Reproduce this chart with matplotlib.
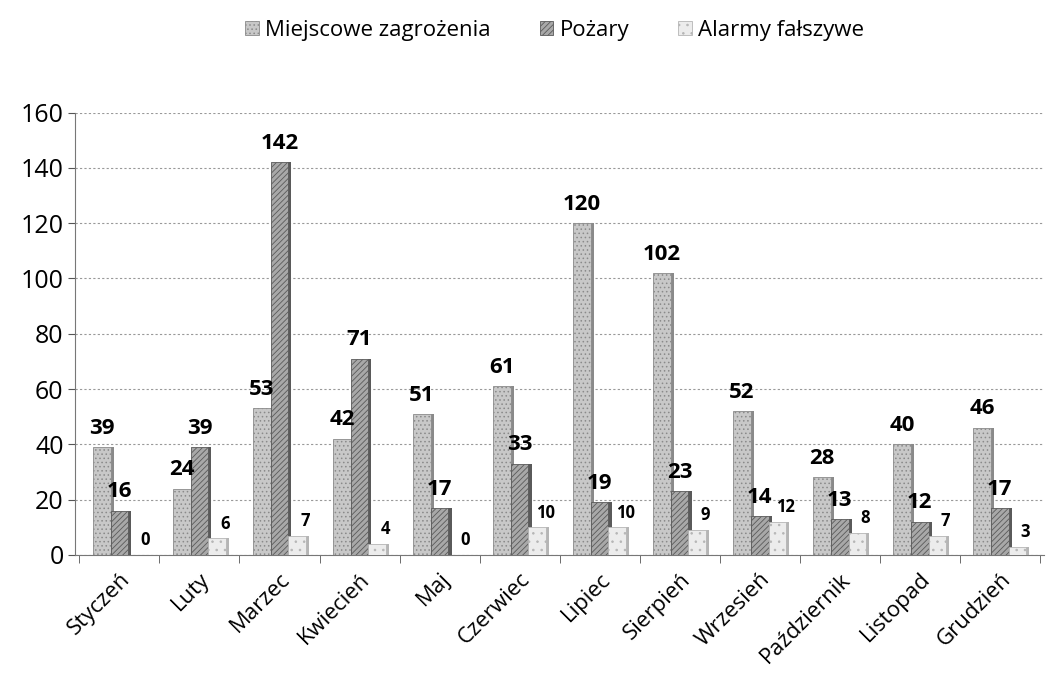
import matplotlib
matplotlib.use('Agg')
import matplotlib.pyplot as plt
import numpy as np

plt.rcParams['font.family'] = ['Open Sans', 'DejaVu Sans']
plt.rcParams['hatch.linewidth'] = 0.6

months = ['Styczeń', 'Luty', 'Marzec', 'Kwiecień', 'Maj', 'Czerwiec',
          'Lipiec', 'Sierpień', 'Wrzesień', 'Październik', 'Listopad', 'Grudzień']
miejscowe = [39, 24, 53, 42, 51, 61, 120, 102, 52, 28, 40, 46]
pozary = [16, 39, 142, 71, 17, 33, 19, 23, 14, 13, 12, 17]
alarmy = [0, 6, 7, 4, 0, 10, 10, 9, 12, 8, 7, 3]

series = [
    ('Miejscowe zagrożenia', miejscowe, '#c8c8c8', '....', '#8a8a8a'),
    ('Pożary', pozary, '#a8a8a8', '//////', '#5a5a5a'),
    ('Alarmy fałszywe', alarmy, '#ececec', '..', '#b5b5b5'),
]

fig = plt.figure(figsize=(10.47, 6.91), dpi=100)
ax = fig.add_axes([0.072, 0.197, 0.925, 0.64])

x = np.arange(len(months))
w = 0.22
for i, (name, vals, fc, hatch, ec) in enumerate(series):
    pos = x + (i - 1) * w
    ax.bar(pos, vals, width=w, color=fc, hatch=hatch, edgecolor=ec,
           linewidth=0.6, label=name, zorder=3)
    # darker side face for a bit of depth
    ax.bar(pos + w * 0.5, vals, width=w * 0.18, color=ec, linewidth=0,
           zorder=2.9, align='edge')
    for xb, v in zip(pos, vals):
        if i < 2:
            ax.text(xb, v + 3, str(v), ha='center', va='bottom',
                    fontsize=16, fontweight='bold', zorder=5)
        else:
            ax.text(xb + w * 0.45, v + 2, str(v), ha='center', va='bottom',
                    fontsize=12, fontweight='bold', zorder=5)

ax.set_ylim(0, 160)
ax.set_yticks(range(0, 161, 20))
ax.set_xlim(-0.55, 11.55)
ax.set_xticks(x)
ax.set_xticklabels(months, rotation=45, ha='right', rotation_mode='anchor',
                   fontsize=16)
ax.tick_params(axis='x', length=0, pad=10)
ax.tick_params(axis='y', labelsize=18, length=5, color='#555555')
ax.set_xticks(np.arange(-0.5, 12, 1), minor=True)
ax.tick_params(axis='x', which='minor', length=6, color='#555555')
ax.yaxis.grid(True, linestyle=(0, (2, 2)), color='#999999', linewidth=0.8,
              zorder=0)
for s in ['top', 'right']:
    ax.spines[s].set_visible(False)
ax.spines['left'].set_color('#777777')
ax.spines['bottom'].set_color('#777777')

fig.legend(loc='upper center', ncol=3, frameon=False, fontsize=16,
           bbox_to_anchor=(0.53, 1.0), handlelength=0.6, handleheight=0.6,
           columnspacing=2.2, handletextpad=0.3)

fig.savefig('out.png', dpi=100)
